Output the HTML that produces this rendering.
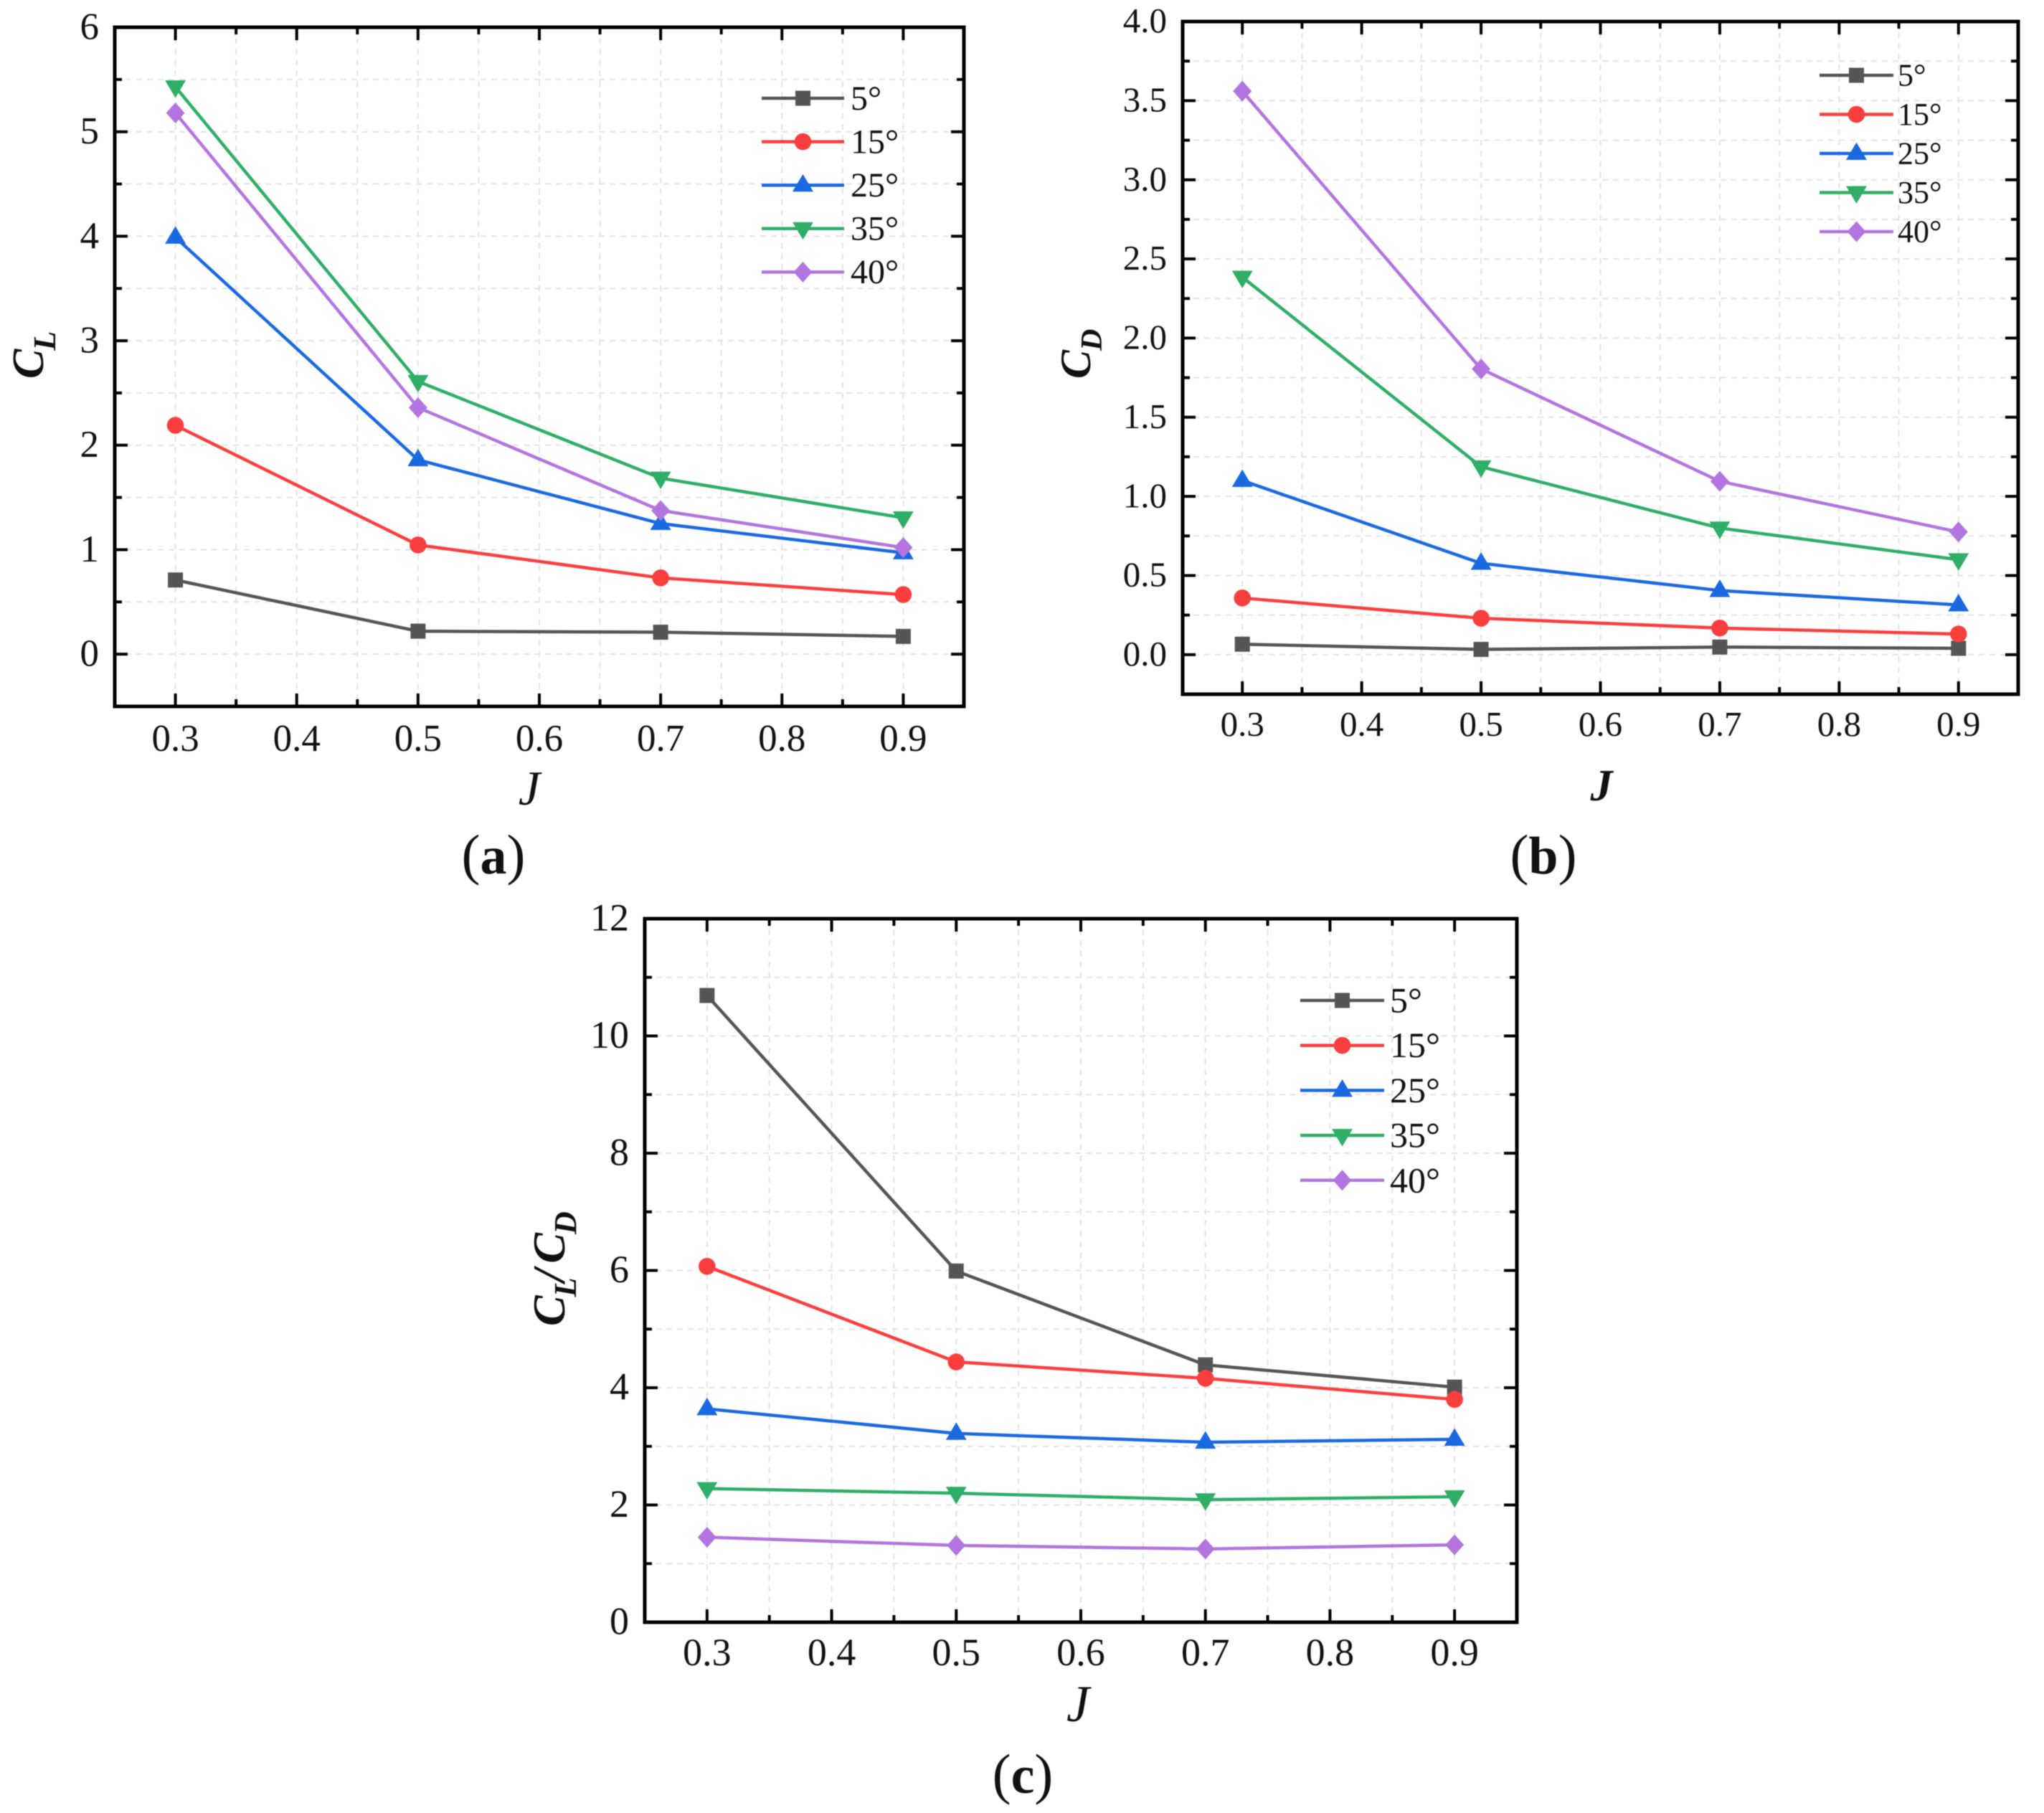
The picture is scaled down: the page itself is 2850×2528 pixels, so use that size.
<!DOCTYPE html>
<html lang="en">
<head>
<meta charset="utf-8">
<title>Aerodynamic coefficients versus advance ratio J</title>
<style>
  html, body { margin: 0; padding: 0; background: #fff; }
  #figure { display: block; width: 2850px; height: 2528px; filter: blur(0.6px); }
  text { font-family: "Liberation Serif", serif; fill: #111; }
  .axis-title { font-weight: bold; font-style: italic; }
  .caption { font-size: 78px; text-anchor: middle; }
  .caption tspan { font-weight: bold; font-size: 74px; }
</style>
</head>
<body>
<svg id="figure" xmlns="http://www.w3.org/2000/svg" width="2850" height="2528" viewBox="0 0 2850 2528">
  <rect x="0" y="0" width="2850" height="2528" fill="#ffffff"/>
  <g id="panel-a"></g>
  <g id="panel-b"></g>
  <g id="panel-c"></g>

  <text class="axis-title" font-size="62" transform="translate(60 528) rotate(-90)">C<tspan font-size="44" dy="17" dx="-2">L</tspan></text>
  <text font-size="68" font-style="italic" text-anchor="middle" x="738" y="1122">J</text>
  <text class="caption" x="688" y="1218">(<tspan>a</tspan>)</text>

  <text class="axis-title" font-size="60" transform="translate(1520 528) rotate(-90)">C<tspan font-size="42" dy="16" dx="-1">D</tspan></text>
  <text class="axis-title" font-size="62" text-anchor="middle" x="2233" y="1116">J</text>
  <text class="caption" x="2152" y="1218">(<tspan>b</tspan>)</text>

  <text class="axis-title" font-size="64" transform="translate(787 1849) rotate(-90)">C<tspan font-size="44" dy="16" dx="-2">L</tspan><tspan dy="-16" dx="-6">/</tspan><tspan dx="8">C</tspan><tspan font-size="44" dy="16" dx="-2">D</tspan></text>
  <text font-size="72" font-style="italic" text-anchor="middle" x="1503" y="2400">J</text>
  <text class="caption" x="1426" y="2500">(<tspan>c</tspan>)</text>
</svg>

<script>
// ---------- shared categories ----------
const jValues = [0.3, 0.5, 0.7, 0.9];
const angleLabels = ['5°', '15°', '25°', '35°', '40°'];
const xTickValues = [0.3, 0.4, 0.5, 0.6, 0.7, 0.8, 0.9];
const xTickLabels = ['0.3', '0.4', '0.5', '0.6', '0.7', '0.8', '0.9'];

// ---------- panel (a): lift coefficient ----------
const clAngle5  = [0.71, 0.22, 0.21, 0.17];
const clAngle15 = [2.19, 1.045, 0.73, 0.57];
const clAngle25 = [3.99, 1.86, 1.25, 0.97];
const clAngle35 = [5.43, 2.61, 1.685, 1.305];
const clAngle40 = [5.18, 2.36, 1.375, 1.02];
const clTickValues = [0, 1, 2, 3, 4, 5, 6];
const clTickLabels = ['0', '1', '2', '3', '4', '5', '6'];

// ---------- panel (b): drag coefficient ----------
const cdAngle5  = [0.066, 0.033, 0.048, 0.04];
const cdAngle15 = [0.358, 0.23, 0.168, 0.13];
const cdAngle25 = [1.10, 0.577, 0.405, 0.314];
const cdAngle35 = [2.385, 1.187, 0.80, 0.60];
const cdAngle40 = [3.56, 1.805, 1.095, 0.775];
const cdTickValues = [0, 0.5, 1, 1.5, 2, 2.5, 3, 3.5, 4];
const cdTickLabels = ['0.0', '0.5', '1.0', '1.5', '2.0', '2.5', '3.0', '3.5', '4.0'];

// ---------- panel (c): lift-to-drag ratio ----------
const ldAngle5  = [10.69, 5.99, 4.39, 4.01];
const ldAngle15 = [6.07, 4.44, 4.16, 3.80];
const ldAngle25 = [3.64, 3.22, 3.07, 3.12];
const ldAngle35 = [2.28, 2.20, 2.09, 2.14];
const ldAngle40 = [1.45, 1.31, 1.25, 1.32];
const ldTickValues = [0, 2, 4, 6, 8, 10, 12];
const ldTickLabels = ['0', '2', '4', '6', '8', '10', '12'];

const seriesColors = ['#555555', '#f93e3e', '#1a69e0', '#2fae68', '#b274de'];
const markerKinds = ['square', 'circle', 'triangle-up', 'triangle-down', 'diamond'];
const SVG_NS = 'http://www.w3.org/2000/svg';

function make(tag, parent) {
  const el = document.createElementNS(SVG_NS, tag);
  parent.appendChild(el);
  return el;
}

function drawMarker(parent, kind, cx, cy, color) {
  let el;
  if (kind === 'square') {
    el = make('rect', parent);
    el.setAttribute('x', cx - 10.5);
    el.setAttribute('y', cy - 10.5);
    el.setAttribute('width', 21);
    el.setAttribute('height', 21);
  } else if (kind === 'circle') {
    el = make('circle', parent);
    el.setAttribute('cx', cx);
    el.setAttribute('cy', cy);
    el.setAttribute('r', 11.8);
  } else {
    let pts;
    if (kind === 'triangle-up') {
      pts = [[cx, cy - 15.5], [cx + 14.5, cy + 9], [cx - 14.5, cy + 9]];
    } else if (kind === 'triangle-down') {
      pts = [[cx - 14.5, cy - 9], [cx + 14.5, cy - 9], [cx, cy + 15.5]];
    } else {
      pts = [[cx, cy - 14.5], [cx + 13, cy], [cx, cy + 14.5], [cx - 13, cy]];
    }
    el = make('polygon', parent);
    el.setAttribute('points', pts.map(function (p) { return p.join(','); }).join(' '));
  }
  el.setAttribute('fill', color);
  
  
  return el;
}

function drawLine(parent, x1, y1, x2, y2, stroke, width, dash) {
  const el = make('line', parent);
  el.setAttribute('x1', x1);
  el.setAttribute('y1', y1);
  el.setAttribute('x2', x2);
  el.setAttribute('y2', y2);
  el.setAttribute('stroke', stroke);
  el.setAttribute('stroke-width', width);
  if (dash) el.setAttribute('stroke-dasharray', dash);
  return el;
}

function drawPanel(rootId, frame, yDomain, yTicks, yLabels, series, legend, fontSize) {
  const root = document.getElementById(rootId);
  const sx = function (v) { return frame.left + (v - 0.25) / 0.7 * (frame.right - frame.left); };
  const sy = function (v) { return frame.bottom - (v - yDomain[0]) / (yDomain[1] - yDomain[0]) * (frame.bottom - frame.top); };

  // minor positions sit halfway between majors
  const xMinor = [];
  for (let i = 0; i < xTickValues.length - 1; i++) xMinor.push((xTickValues[i] + xTickValues[i + 1]) / 2);
  const yStep = yTicks[1] - yTicks[0];
  const yMinor = [];
  for (let v = yTicks[0] - yStep / 2; v < yDomain[1]; v += yStep) {
    if (v > yDomain[0]) yMinor.push(v);
  }

  // grid
  const grid = make('g', root);
  
  
  xTickValues.concat(xMinor).forEach(function (v) {
    const l = drawLine(grid, sx(v), frame.top, sx(v), frame.bottom, '#e3e3e3', 2, '8 7');
    
    
  });
  yTicks.concat(yMinor).forEach(function (v) {
    const l = drawLine(grid, frame.left, sy(v), frame.right, sy(v), '#e3e3e3', 2, '8 7');
    
    
  });

  // ticks on all four sides
  const ticks = make('g', root);
  
  
  function xTick(v, len, w) {
    const a = drawLine(ticks, sx(v), frame.bottom, sx(v), frame.bottom - len, '#000', w);
    
    
    const b = drawLine(ticks, sx(v), frame.top, sx(v), frame.top + len, '#000', w);
    
    
  }
  function yTick(v, len, w) {
    const a = drawLine(ticks, frame.left, sy(v), frame.left + len, sy(v), '#000', w);
    
    
    const b = drawLine(ticks, frame.right, sy(v), frame.right - len, sy(v), '#000', w);
    
    
  }
  xTickValues.forEach(function (v) { xTick(v, 18, 4); });
  xMinor.forEach(function (v) { xTick(v, 10, 4); });
  yTicks.forEach(function (v) { yTick(v, 18, 4); });
  yMinor.forEach(function (v) { yTick(v, 10, 4); });

  // tick labels
  xTickValues.forEach(function (v, i) {
    const t = make('text', root);
    
    
    t.setAttribute('x', sx(v));
    t.setAttribute('y', frame.bottom + frame.xLabelGap);
    t.setAttribute('font-size', fontSize.tick);
    t.setAttribute('text-anchor', 'middle');
    t.textContent = xTickLabels[i];
  });
  yTicks.forEach(function (v, i) {
    const t = make('text', root);
    
    
    t.setAttribute('x', frame.left - 22);
    t.setAttribute('y', sy(v) + fontSize.tick * 0.31);
    t.setAttribute('font-size', fontSize.tick);
    t.setAttribute('text-anchor', 'end');
    t.textContent = yLabels[i];
  });

  // series
  series.forEach(function (values, s) {
    const g = make('g', root);
    
    
    const line = make('polyline', g);
    
    
    line.setAttribute('fill', 'none');
    line.setAttribute('stroke', seriesColors[s]);
    line.setAttribute('stroke-width', 4.5);
    line.setAttribute('points', values.map(function (v, i) { return sx(jValues[i]) + ',' + sy(v); }).join(' '));
    values.forEach(function (v, i) {
      drawMarker(g, markerKinds[s], sx(jValues[i]), sy(v), seriesColors[s]);
    });
  });

  // frame
  const box = make('rect', root);
  
  
  box.setAttribute('x', frame.left);
  box.setAttribute('y', frame.top);
  box.setAttribute('width', frame.right - frame.left);
  box.setAttribute('height', frame.bottom - frame.top);
  box.setAttribute('fill', 'none');
  box.setAttribute('stroke', '#000');
  box.setAttribute('stroke-width', 5);

  // legend
  const lg = make('g', root);
  
  
  angleLabels.forEach(function (label, s) {
    const y = legend.top + s * legend.step;
    const entry = make('g', lg);
    
    
    const l = drawLine(entry, legend.x1, y, legend.x2, y, seriesColors[s], 4.5);
    
    
    drawMarker(entry, markerKinds[s], (legend.x1 + legend.x2) / 2, y, seriesColors[s]);
    const t = make('text', entry);
    
    
    t.setAttribute('x', legend.textLeft);
    t.setAttribute('y', y + fontSize.legend * 0.33);
    t.setAttribute('font-size', fontSize.legend);
    t.textContent = label;
  });
}

drawPanel('panel-a',
  { left: 160, right: 1344, top: 38, bottom: 985, xLabelGap: 62 },
  [-0.5, 6], clTickValues, clTickLabels,
  [clAngle5, clAngle15, clAngle25, clAngle35, clAngle40],
  { x1: 1062, x2: 1177, top: 137, step: 60.6, textLeft: 1186 },
  { tick: 53, legend: 48 });

drawPanel('panel-b',
  { left: 1649, right: 2814, top: 30, bottom: 968, xLabelGap: 58 },
  [-0.25, 4], cdTickValues, cdTickLabels,
  [cdAngle5, cdAngle15, cdAngle25, cdAngle35, cdAngle40],
  { x1: 2537, x2: 2640, top: 105, step: 54.5, textLeft: 2646 },
  { tick: 49, legend: 44 });

drawPanel('panel-c',
  { left: 899, right: 2115, top: 1281, bottom: 2262, xLabelGap: 60 },
  [0, 12], ldTickValues, ldTickLabels,
  [ldAngle5, ldAngle15, ldAngle25, ldAngle35, ldAngle40],
  { x1: 1813, x2: 1930, top: 1395, step: 62.7, textLeft: 1938 },
  { tick: 54, legend: 50 });
</script>
</body>
</html>
